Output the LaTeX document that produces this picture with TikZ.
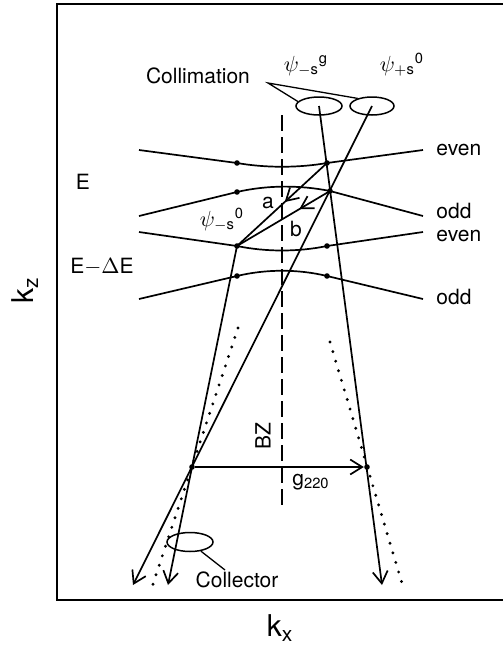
\documentclass[tikz,border=0pt]{standalone}
\usepackage{amsmath}
\usepackage{fontspec}
\setmainfont{TeX Gyre Heros}
\usetikzlibrary{arrows.meta,shapes.geometric,decorations.markings}
\tikzset{
  band/.style={line width=0.85pt},
  ray/.style={line width=0.85pt, -{Straight Barb[length=6pt,width=7.5pt]}},
  midarr/.style={line width=0.85pt, postaction={decorate},
    decoration={markings, mark=at position #1 with {\arrow{Straight Barb[length=6pt,width=7pt]}}}},
  dotline/.style={line width=1.6pt, line cap=round, dash pattern=on 0pt off 5pt},
  bzline/.style={line width=0.75pt, dash pattern=on 8pt off 3pt},
  lead/.style={line width=0.65pt},
}

\begin{document}
\begin{tikzpicture}[x=0.5pt, y=-0.5pt, font=\fontsize{10.5}{12.6}\selectfont,
  dot/.style={circle, fill, inner sep=0pt, minimum size=2.8pt},
  ell/.style={draw, ellipse, line width=0.75pt, inner sep=0pt},
  lbl/.style={inner sep=1pt},
  axl/.style={inner sep=1pt, font=\fontsize{15}{18}\selectfont}]
  \useasboundingbox (0,0) rectangle (503,649);
  % frame
  \draw[line width=0.85pt] (503,4) -- (57,4) -- (57,600) -- (503,600);
  \node[axl, rotate=90] (kz) at (25,290) {k$_\text{z}$};
  \node[axl] (kx) at (280,628) {k$_\text{x}$};
  % bands
  \node[dot] (b1l) at (237,163) {};
  \node[dot] (b1r) at (327,163) {};
  \node[dot] (b2l) at (237,192) {};
  \node[dot] (b2r) at (330,191) {};
  \node[dot] (b3l) at (237,246) {};
  \node[dot] (b3r) at (327,246) {};
  \node[dot] (b4l) at (237,276) {};
  \node[dot] (b4r) at (327,276) {};
  \draw[band] (139,150) -- (b1l.center) .. controls (266,168) and (298,168) .. (b1r.center) -- (423,150);
  \draw[band] (139,216) -- (b2l.center) .. controls (267,185) and (300,185) .. (b2r.center) -- (423,216);
  \draw[band] (139,232) -- (b3l.center) .. controls (266,252) and (298,252) .. (b3r.center) -- (423,232);
  \draw[band] (139,299) -- (b4l.center) .. controls (266,269) and (298,269) .. (b4r.center) -- (423,299);
  \node[lbl, anchor=west] (ev1) at (434,150) {even};
  \node[lbl, anchor=west] (od1) at (434,211) {odd};
  \node[lbl, anchor=west] (ev2) at (434,236) {even};
  \node[lbl, anchor=west] (od2) at (434,297) {odd};
  \node[lbl] (lE) at (83,182) {E};
  \node[lbl] (lEdE) at (102,267) {E$-\Delta$E};
  % Brillouin zone boundary
  \coordinate (bzt) at (282,115);
  \coordinate (bzb) at (282,510);
  \draw[bzline] (bzt) -- (bzb);
  \node[lbl, rotate=90] (bz) at (263,436) {BZ};
  % collimation
  \node[ell, minimum width=23pt, minimum height=9pt] (colg) at (319,106) {};
  \node[ell, minimum width=22pt, minimum height=9pt] (col0) at (372,106) {};
  \node[lbl] (psig) at (306,66) {$\psi_{-\text{s}}{}^{\text{g}}$};
  \node[lbl] (psi0) at (402,65) {$\psi_{+\text{s}}{}^{\text{0}}$};
  \node[lbl] (cmt) at (198,76) {Collimation};
  \coordinate (cm) at (268,83);
  \draw[lead] (colg.168) -- (cm) -- (col0.152);
  % rays
  \coordinate (L1e) at (382,585);
  \coordinate (L2e) at (133,585);
  \coordinate (L3e) at (168,585);
  \draw[ray] (colg.center) -- (L1e);
  \draw[ray] (col0.center) -- (L2e);
  \draw[ray] (b3l.center) -- (L3e);
  \draw[midarr=0.47] (b1r.center) -- (b3l.center);
  \draw[midarr=0.33] (b2r.center) -- (b3l.center);
  \node[lbl] (la) at (268,203) {a};
  \node[lbl] (lb) at (296,229) {b};
  \node[lbl] (psis) at (222,220) {$\psi_{-\text{s}}{}^{\text{0}}$};
  % extrapolations
  \coordinate (dl1) at (238,328);
  \coordinate (dl2) at (151,590);
  \coordinate (dr1) at (330,342);
  \coordinate (dr2) at (404,590);
  \draw[dotline] (dl1) -- (dl2);
  \draw[dotline] (dr1) -- (dr2);
  % reciprocal lattice vector
  \node[dot] (X1) at (192,467) {};
  \node[dot] (X2) at (367,467) {};
  \draw[ray] (X1) -- (X2);
  \node[lbl] (g) at (311,482) {g$_{\text{220}}$};
  % collector
  \node[ell, minimum width=23pt, minimum height=9.5pt] (colc) at (190,542) {};
  \node[lbl] (ctext) at (237,580) {Collector};
  \coordinate (cl) at (225,570);
  \draw[lead] (colc.-40) -- (cl);
\end{tikzpicture}
\end{document}
